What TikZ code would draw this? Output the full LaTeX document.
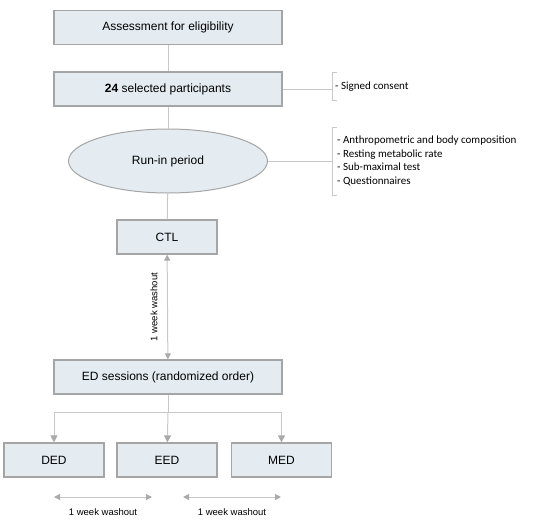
\documentclass[tikz,border=0pt]{standalone}
\usepackage{fontspec}
\setmainfont{Liberation Sans}
\newfontfamily\notefont{Carlito}
\usetikzlibrary{shapes.geometric, arrows.meta, positioning}
\definecolor{boxfill}{RGB}{228,236,242}
\definecolor{boxline}{RGB}{165,165,165}
\definecolor{linkgray}{RGB}{200,200,200}
\definecolor{tipgray}{RGB}{170,170,170}
\tikzstyle{stage} = [
rectangle, minimum width=228pt, minimum height=34pt,
text centered, draw=boxline, fill=boxfill, line width=1.2pt, font=\fontsize{12}{14}\selectfont
]
\tikzstyle{arm} = [stage, minimum width=100pt]
\tikzstyle{period} = [
ellipse, minimum width=199pt, minimum height=64pt,
text centered, draw=boxline, fill=boxfill, line width=1pt, font=\fontsize{12}{14}\selectfont
]
\tikzstyle{note} = [font=\notefont\fontsize{11}{13.6}\selectfont, align=left, inner sep=0pt]
\tikzstyle{gap} = [font=\fontsize{9.5}{11}\selectfont]
\tikzstyle{link} = [draw=linkgray, line width=1pt]
\tikzstyle{arrow} = [link, -{Triangle[length=7pt,width=7pt,color=tipgray]}]
\tikzstyle{twoway} = [link, {Triangle[length=6pt,width=6pt,color=tipgray]}-{Triangle[length=6pt,width=6pt,color=tipgray]}]

\begin{document}
\begin{tikzpicture}[x=1pt, y=-1pt]
			\useasboundingbox (0,0) rectangle (550,523);

			% Main flow
			\node (assess) [stage] at (168,27.5) {Assessment for eligibility};
			\node (select) [stage, node distance=61.5pt, below of=assess] {\textbf{24} selected participants};
			\node (runin) [period, node distance=72pt, below of=select] {Run-in period};
			\node (ctl) [arm, node distance=76pt, below of=runin, xshift=-1pt] {CTL};
			\node (ed) [stage, node distance=140pt, below of=ctl, xshift=1pt] {ED sessions (randomized order)};
			\node (eed) [arm, node distance=83pt, below of=ed, xshift=-1pt] {EED};
			\node (ded) [arm, node distance=113pt, left of=eed] {DED};
			\node (med) [arm, node distance=114.5pt, right of=eed] {MED};

			% Notes
			\node (consent) [note, anchor=west] at (335,87) {- Signed consent};
			\node (tests) [note, anchor=west] at (337,161) {- Anthropometric and body composition\\- Resting metabolic rate\\- Sub-maximal test\\- Questionnaires};
			\coordinate (brk1) at (332,89);
			\coordinate (brk2) at (332,161);
			\coordinate (fork) at (168,412);
			\coordinate (wa1) at (54,497);
			\coordinate (wb1) at (152,497);
			\coordinate (wa2) at (183,497);
			\coordinate (wb2) at (281,497);

			% Connections
			\draw [link] (assess) -- (select);
			\draw [link] (select) -- (runin);
			\draw [link] (runin) -- (ctl);
			\draw [twoway] (ctl) -- node[midway, rotate=90, anchor=south, inner sep=9.5pt, gap] {1 week washout} (ed);
			\draw [link] (ed.south) -- (fork);
			\draw [arrow] (fork) -- (eed);
			\draw [arrow] (fork) -| (ded);
			\draw [arrow] (fork) -| (med);

			% Brackets
			\draw [link] (select.east) -- (brk1);
			\draw [link] (brk1) ++(5,-17) -- ++(-5,0) -- ++(0,28) -- ++(5,0);
			\draw [link] (runin.east) -- (brk2);
			\draw [link] (brk2) ++(5,-34) -- ++(-5,0) -- ++(0,68) -- ++(5,0);

			% Washout
			\draw [twoway] (wa1) -- node[below=8pt, gap] {1 week washout} (wb1);
			\draw [twoway] (wa2) -- node[below=8pt, gap] {1 week washout} (wb2);

		\end{tikzpicture}
\end{document}
